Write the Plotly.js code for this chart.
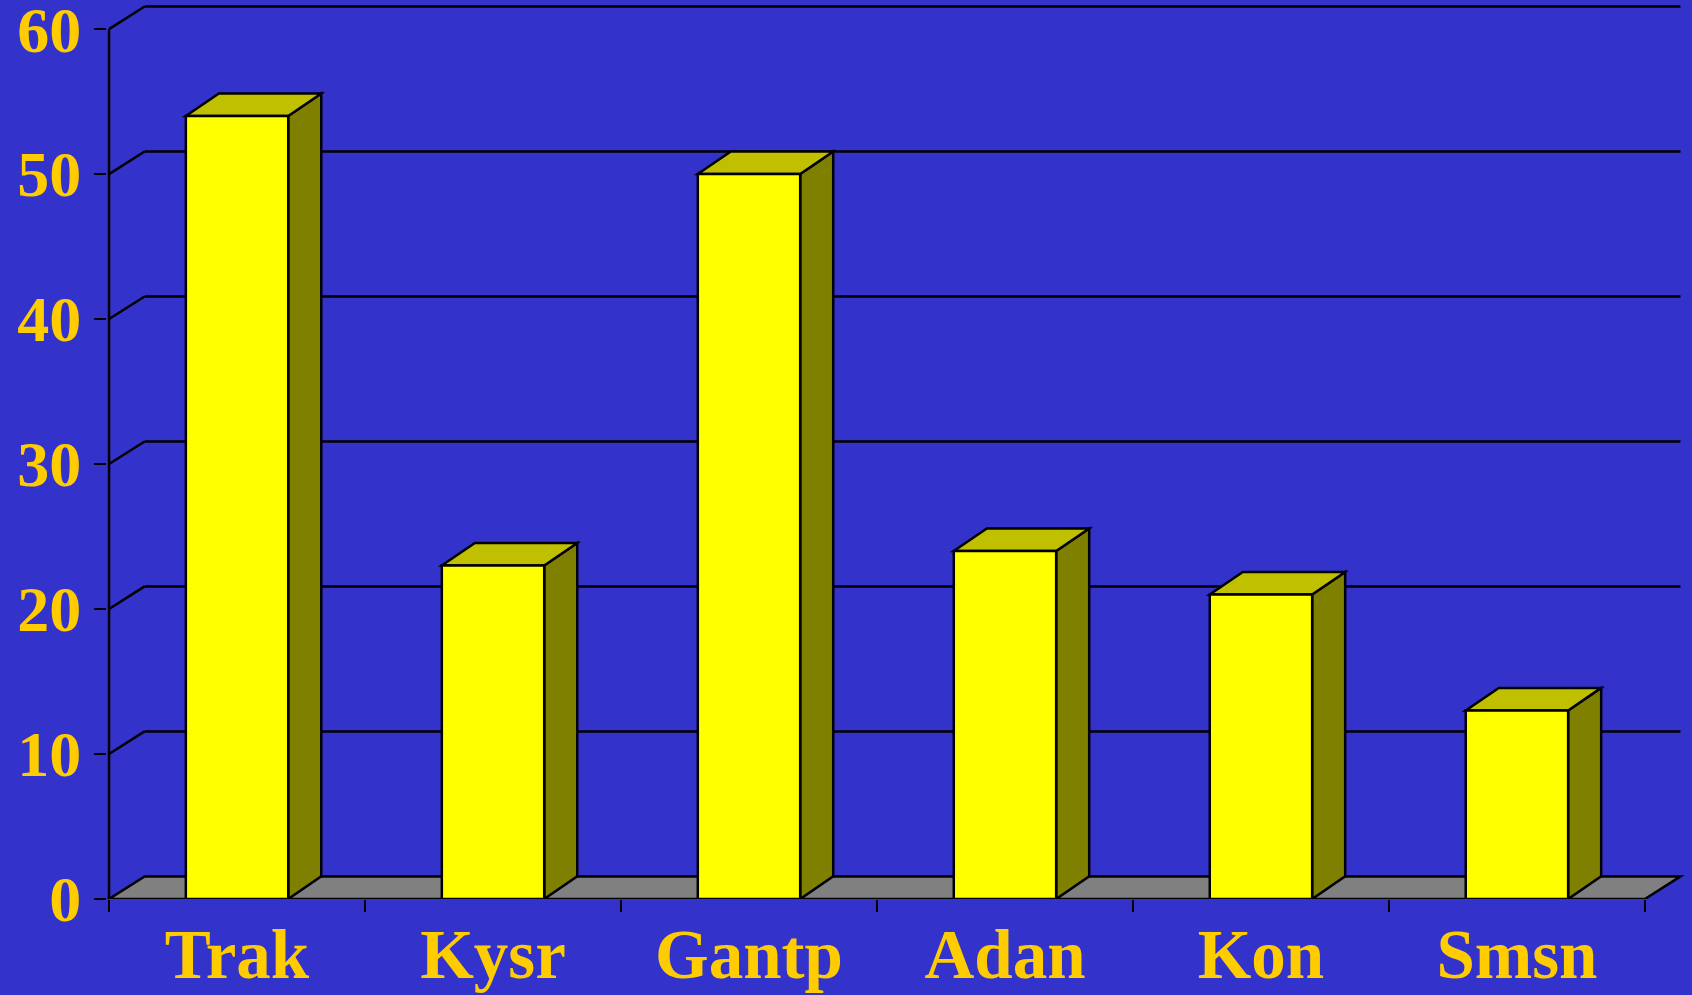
<!DOCTYPE html>
<html>
<head>
<meta charset="utf-8">
<script src="https://cdn.plot.ly/plotly-3.0.1.min.js"></script>
<style>html,body{margin:0;padding:0;background:#3333CC;}#chart{width:1692px;height:995px;}</style>
</head>
<body>
<div id="chart"></div>
<script>
// ---- data ----
const categories = ['Trak', 'Kysr', 'Gantp', 'Adan', 'Kon', 'Smsn'];
const values = [54, 23, 50, 24, 21, 13];
const yTicks = [0, 10, 20, 30, 40, 50, 60];

// ---- 3D look (style constants, in axis units) ----
const WALL_DX = 0.139, WALL_DY = 1.56;
const BAR_DX = 0.129, BAR_DY = 1.56;
const BAR_W = 0.4;
const LINE = {color: '#000000', width: 2.5};

const n = categories.length;
const xL = -0.5, xR = n - 0.5;
const shapes = [];

// back-wall grid lines and their diagonals from the front axis
yTicks.forEach(v => {
  if (v === 0) return;
  shapes.push({type: 'line', layer: 'below', xref: 'x', yref: 'y',
    x0: xL, y0: v, x1: xL + WALL_DX, y1: v + WALL_DY, line: LINE});
  shapes.push({type: 'line', layer: 'below', xref: 'x', yref: 'y',
    x0: xL + WALL_DX, y0: v + WALL_DY, x1: xR + WALL_DX, y1: v + WALL_DY, line: LINE});
});
// floor
shapes.push({type: 'path', layer: 'below', xref: 'x', yref: 'y',
  path: `M ${xL},0 L ${xR},0 L ${xR + WALL_DX},${WALL_DY} L ${xL + WALL_DX},${WALL_DY} Z`,
  fillcolor: '#808080', line: LINE});
// front value axis line
shapes.push({type: 'line', layer: 'below', xref: 'x', yref: 'y',
  x0: xL, y0: 0, x1: xL, y1: yTicks[yTicks.length - 1], line: LINE});

// side and top faces of each bar
values.forEach((v, i) => {
  const l = i - BAR_W / 2, r = i + BAR_W / 2;
  shapes.push({type: 'path', layer: 'below', xref: 'x', yref: 'y',
    path: `M ${r},0 L ${r + BAR_DX},${BAR_DY} L ${r + BAR_DX},${v + BAR_DY} L ${r},${v} Z`,
    fillcolor: '#808000', line: LINE});
  shapes.push({type: 'path', layer: 'below', xref: 'x', yref: 'y',
    path: `M ${l},${v} L ${l + BAR_DX},${v + BAR_DY} L ${r + BAR_DX},${v + BAR_DY} L ${r},${v} Z`,
    fillcolor: '#C0C000', line: LINE});
});

const trace = {
  type: 'bar', x: categories, y: values, width: BAR_W,
  marker: {color: '#FFFF00', line: {color: '#000000', width: 2.5}},
  hoverinfo: 'skip', showlegend: false
};

const labelFont = {family: 'Liberation Serif, Times New Roman, serif', color: '#FFCC00', weight: 'bold'};

const layout = {
  width: 1692, height: 995,
  paper_bgcolor: '#3333CC', plot_bgcolor: '#3333CC',
  margin: {l: 107, r: 1, t: 3, b: 96},
  showlegend: false,
  xaxis: {
    type: 'category', range: [-0.508, 5.68],
    tickson: 'boundaries', ticks: 'outside', ticklen: 12, tickwidth: 2.5, tickcolor: '#000000',
    showgrid: false, zeroline: false, showline: false,
    tickfont: Object.assign({size: 69}, labelFont),
    ticklabelstandoff: 9, ticklabeloverflow: 'allow'
  },
  yaxis: {
    range: [0, 61.8], tickvals: yTicks,
    ticks: 'outside', ticklen: 12, tickwidth: 2.5, tickcolor: '#000000',
    showgrid: false, zeroline: false, showline: false,
    tickfont: Object.assign({size: 64}, labelFont),
    ticklabelstandoff: 0, ticklabeloverflow: 'allow'
  },
  shapes: shapes
};

Plotly.newPlot('chart', [trace], layout, {displayModeBar: false, staticPlot: true});
</script>
</body>
</html>
